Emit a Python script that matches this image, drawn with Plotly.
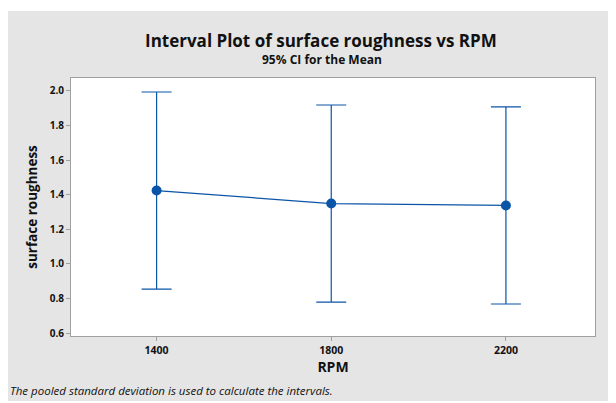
import plotly.graph_objects as go

rpm = ["1400", "1800", "2200"]
mean_roughness = [1.424, 1.349, 1.338]
ci_half_width = [0.570, 0.570, 0.570]
y_ticks = [0.6, 0.8, 1.0, 1.2, 1.4, 1.6, 1.8, 2.0]

# page body has an 8px default margin; figure fills the rest of the 616x403 window
OFF = 8
W, H = 616 - OFF, 403 - OFF
L, R, T, B = 71 - OFF, 21, 78 - OFF, 67
pw, ph = W - L - R, H - T - B

def px_x(p):  # page pixel -> paper coordinate
    return (p - OFF - L) / pw

def px_y(p):
    return (H - B - (p - OFF)) / ph

blue = "#0b55a8"
gray_bg = "#e5e5e5"
font = "Open Sans"
txt = "#111111"

fig = go.Figure()
fig.add_trace(go.Scatter(
    x=rpm, y=mean_roughness,
    mode="lines+markers",
    line=dict(color=blue, width=1.2),
    marker=dict(color=blue, size=10),
    error_y=dict(type="data", array=ci_half_width, symmetric=True,
                 color=blue, thickness=1.2, width=15),
    showlegend=False,
))

# white strips outside the gray panel
fig.add_shape(type="rect", xref="paper", yref="paper", layer="above",
              x0=px_x(0), x1=px_x(620), y0=px_y(11), y1=px_y(0),
              fillcolor="white", line=dict(width=0))
fig.add_shape(type="rect", xref="paper", yref="paper", layer="above",
              x0=px_x(0), x1=px_x(620), y0=px_y(410), y1=px_y(401),
              fillcolor="white", line=dict(width=0))

fig.add_annotation(text="<b>Interval Plot of surface roughness vs RPM</b>",
                   xref="paper", yref="paper", x=px_x(321), y=px_y(41),
                   showarrow=False, font=dict(family=font, size=17, color=txt),
                   xanchor="center", yanchor="middle")
fig.add_annotation(text="<b>95% CI for the Mean</b>",
                   xref="paper", yref="paper", x=px_x(322), y=px_y(59),
                   showarrow=False, font=dict(family=font, size=12, color=txt),
                   xanchor="center", yanchor="middle")
fig.add_annotation(text="<i>The pooled standard deviation is used to calculate the intervals.</i>",
                   xref="paper", yref="paper", x=px_x(8), y=px_y(390),
                   showarrow=False, font=dict(family=font, size=11.5, color=txt),
                   xanchor="left", yanchor="middle")

fig.update_layout(
    width=W, height=H,
    margin=dict(l=L, r=R, t=T, b=B),
    paper_bgcolor=gray_bg, plot_bgcolor="white",
    font=dict(family=font, color=txt),
)
fig.update_xaxes(
    type="category", range=[-0.49, 2.51],
    showline=True, linecolor="#a0a0a0", linewidth=1, mirror=True,
    ticks="outside", ticklen=4, tickcolor="#a0a0a0",
    showgrid=False, zeroline=False,
    tickvals=rpm, ticktext=[f"<b>{c}</b>" for c in rpm],
    tickfont=dict(family=font, size=10.5, color=txt),
    title=dict(text="<b>RPM</b>", font=dict(family=font, size=14, color=txt), standoff=5),
)
fig.update_yaxes(
    range=[0.583, 2.075], tickvals=y_ticks, ticktext=[f"<b>{v:.1f}</b>" for v in y_ticks],
    showline=True, linecolor="#a0a0a0", linewidth=1, mirror=True,
    ticks="outside", ticklen=4, tickcolor="#a0a0a0",
    showgrid=False, zeroline=False,
    tickfont=dict(family=font, size=10, color=txt),
    title=dict(text="<b>surface roughness</b>", font=dict(family=font, size=13.5, color=txt), standoff=8),
)

fig.write_html("out.html")
